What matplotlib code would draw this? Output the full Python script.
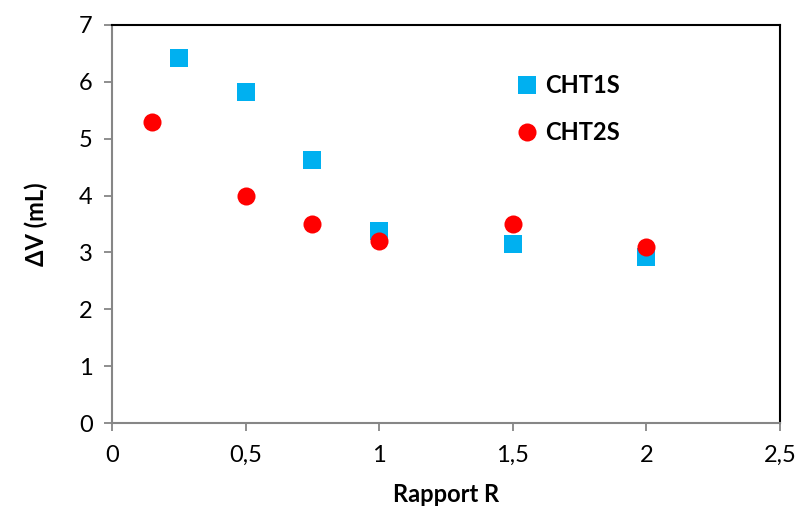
import matplotlib
matplotlib.use("Agg")
import matplotlib.pyplot as plt

plt.rcParams['font.family'] = ['Lato', 'DejaVu Sans']

# Rapport R vs. ΔV (mL)
r_cht1s = [0.25, 0.5, 0.75, 1.0, 1.5, 2.0]
dv_cht1s = [6.42, 5.82, 4.63, 3.37, 3.15, 2.92]
r_cht2s = [0.15, 0.5, 0.75, 1.0, 1.5, 2.0]
dv_cht2s = [5.3, 4.0, 3.5, 3.2, 3.5, 3.1]

x_ticks = [0, 0.5, 1, 1.5, 2, 2.5]
x_tick_labels = ['0', '0,5', '1', '1,5', '2', '2,5']
y_ticks = [0, 1, 2, 3, 4, 5, 6, 7]

fig = plt.figure(figsize=(7.98, 5.11), dpi=100)
ax = fig.add_axes([0.1404, 0.1722, 0.837, 0.779])

ax.plot(r_cht1s, dv_cht1s, linestyle='none', marker='s', markersize=12.5,
        color='#00B0F0', markeredgewidth=0, label='CHT1S', zorder=3)
ax.plot(r_cht2s, dv_cht2s, linestyle='none', marker='o', markersize=13,
        color='#FF0000', markeredgewidth=0, label='CHT2S', zorder=4)

ax.set_xlim(0, 2.5)
ax.set_ylim(0, 7)
ax.set_xticks(x_ticks)
ax.set_xticklabels(x_tick_labels)
ax.set_yticks(y_ticks)

for side in ('left', 'bottom'):
    ax.spines[side].set_color('#868686')
    ax.spines[side].set_linewidth(1.5)
for side in ('top', 'right'):
    ax.spines[side].set_color('black')
    ax.spines[side].set_linewidth(1.5)

ax.tick_params(axis='both', direction='out', length=6, width=1.3,
               color='#868686', labelsize=17, labelcolor='black')
ax.tick_params(axis='x', pad=10)
ax.tick_params(axis='y', pad=8)

ax.set_xlabel('Rapport R', fontsize=17, fontweight='bold', labelpad=12)
ax.set_ylabel('ΔV (mL)', fontsize=17, fontweight='bold', labelpad=22)

leg = ax.legend(loc='upper left', bbox_to_anchor=(0.595, 0.9), frameon=False,
                prop={'size': 17, 'weight': 'bold'}, handlelength=0.7,
                handletextpad=0.4, labelspacing=1.0, borderaxespad=0)

fig.savefig('out.png', dpi=100)
